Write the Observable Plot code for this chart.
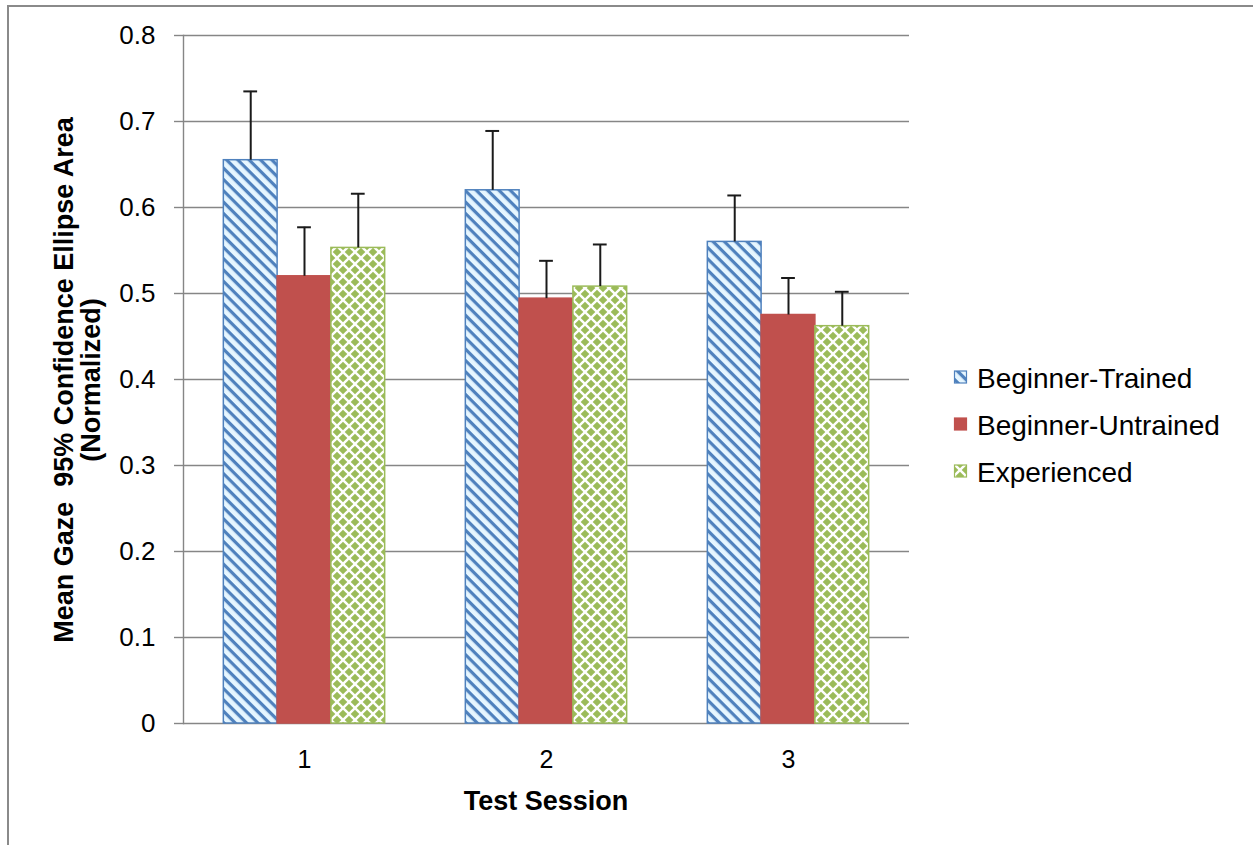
<!DOCTYPE html>
<html>
<head>
<meta charset="utf-8">
<script src="https://cdn.jsdelivr.net/npm/d3@7"></script>
<script src="https://cdn.jsdelivr.net/npm/@observablehq/plot@0.6"></script>
<style>
  html, body { margin: 0; padding: 0; background: #fff; }
  #wrap { position: relative; width: 1253px; height: 845px; overflow: hidden; }
  #border { position: absolute; left: 7px; top: 5px; right: -10px; bottom: -10px; border-left: 2px solid #8a8a8a; border-top: 2px solid #8a8a8a; pointer-events: none; }
  #chart { position: absolute; left: 0; top: 0; }
</style>
</head>
<body>
<div id="wrap"><div id="chart"></div><div id="border"></div></div>
<script>
// ---- data ----
const sessions = ["1", "2", "3"];
const groups = ["Beginner-Trained", "Beginner-Untrained", "Experienced"];
const meanTrained = [0.655, 0.620, 0.560];
const meanUntrained = [0.520, 0.494, 0.475];
const meanExperienced = [0.553, 0.508, 0.462];
const errTrained = [0.080, 0.069, 0.054];
const errUntrained = [0.057, 0.044, 0.043];
const errExperienced = [0.063, 0.049, 0.040];
const yTicks = [0, 0.1, 0.2, 0.3, 0.4, 0.5, 0.6, 0.7, 0.8];
const yTickLabels = ["0", "0.1", "0.2", "0.3", "0.4", "0.5", "0.6", "0.7", "0.8"];
const xTitle = "Test Session";
const yTitle1 = "Mean Gaze  95% Confidence Ellipse Area";
const yTitle2 = "(Normalized)";

const means = [meanTrained, meanUntrained, meanExperienced];
const errs = [errTrained, errUntrained, errExperienced];
const data = groups.flatMap((g, gi) => sessions.map((s, si) => ({
  group: g, session: s, value: means[gi][si], err: errs[gi][si]
})));

const fills = {
  "Beginner-Trained": {fill: "url(#patBT)", stroke: "#4f81bd"},
  "Beginner-Untrained": {fill: "#c0504d", stroke: "#c0504d"},
  "Experienced": {fill: "url(#patEX)", stroke: "#9bbb59"}
};

const FONT = "'Liberation Sans', Arial, Helvetica, sans-serif";

const barMarks = groups.map(g => Plot.barY(data.filter(d => d.group === g), {
  fx: "session", x: "group", y: "value",
  fill: fills[g].fill, stroke: fills[g].stroke, strokeWidth: 1.5,
  inset: 0
}));

const chart = Plot.plot({
  width: 1253,
  height: 845,
  marginLeft: 182,
  marginRight: 343,
  marginTop: 35,
  marginBottom: 122,
  style: {fontFamily: FONT, fontSize: "25px", color: "#000", background: "transparent"},
  fx: {domain: sessions, padding: 0, label: null, tickSize: 0, tickPadding: 27},
  x: {domain: groups, paddingInner: 0, paddingOuter: 0.75, round: false, axis: null},
  y: {domain: [0, 0.8], label: null},
  marks: [
    Plot.gridY(yTicks, {stroke: "#868686", strokeOpacity: 1, strokeWidth: 1.4}),
    Plot.axisY(yTicks, {tickSize: 9, tickPadding: 19, stroke: "#868686", strokeWidth: 1.4, fill: "#000", label: null, fontSize: 26,
      tickFormat: (d) => yTickLabels[yTicks.indexOf(d)]}),
    Plot.frame({anchor: "left", fx: ["1"], stroke: "#868686", strokeWidth: 1.4}),
    ...barMarks,
    Plot.ruleX(data, {fx: "session", x: "group", y1: "value", y2: d => d.value + d.err, stroke: "#1a1a1a", strokeWidth: 2}),
    Plot.tickY(data, {fx: "session", x: "group", y: d => d.value + d.err, stroke: "#1a1a1a", strokeWidth: 2, insetLeft: 20, insetRight: 20})
  ]
});

document.getElementById("chart").appendChild(chart);

const svg = d3.select(chart);
svg.insert("defs", ":first-child").html(`
  <pattern id="patBT" patternUnits="userSpaceOnUse" width="8" height="8" patternTransform="rotate(45)">
    <rect width="8" height="8" fill="#e6f6ff"/>
    <rect y="0" width="8" height="3.2" fill="#4f81bd"/>
  </pattern>
  <pattern id="patEX" patternUnits="userSpaceOnUse" width="12" height="12">
    <rect width="12" height="12" fill="#ffffff"/>
    <path d="M6,1.7L10.3,6L6,10.3L1.7,6Z" fill="#9bbb59"/>
    <path d="M0,-4.3L4.3,0L0,4.3L-4.3,0Z" fill="#9bbb59"/>
    <path d="M12,-4.3L16.3,0L12,4.3L7.7,0Z" fill="#9bbb59"/>
    <path d="M0,7.7L4.3,12L0,16.3L-4.3,12Z" fill="#9bbb59"/>
    <path d="M12,7.7L16.3,12L12,16.3L7.7,12Z" fill="#9bbb59"/>
  </pattern>
`);

// axis titles
svg.append("text")
  .attr("x", 546).attr("y", 810)
  .attr("text-anchor", "middle")
  .attr("font-family", FONT).attr("font-size", 27).attr("font-weight", "bold")
  .attr("fill", "#000")
  .text(xTitle);

const yt = svg.append("g").attr("transform", "translate(0,380) rotate(-90)");
yt.append("text").attr("x", 0).attr("y", 73)
  .attr("text-anchor", "middle")
  .attr("font-family", FONT).attr("font-size", 27).attr("font-weight", "bold")
  .attr("fill", "#000").text(yTitle1);
yt.append("text").attr("x", 0).attr("y", 100)
  .attr("text-anchor", "middle")
  .attr("font-family", FONT).attr("font-size", 27).attr("font-weight", "bold")
  .attr("fill", "#000").text(yTitle2);

// legend
const legend = svg.append("g").attr("transform", "translate(954,0)");
const legendBase = [388, 435, 482];
groups.forEach((g, i) => {
  const row = legend.append("g").attr("transform", `translate(0,${legendBase[i]})`);
  row.append("rect").attr("x", 0.5).attr("y", -17).attr("width", 12).attr("height", 12)
    .attr("fill", fills[g].fill).attr("stroke", fills[g].stroke).attr("stroke-width", 1.2);
  row.append("text").attr("x", 23).attr("y", 0)
    .attr("text-anchor", "start")
    .attr("font-family", FONT).attr("font-size", 28).attr("fill", "#000")
    .text(g);
});
</script>
</body>
</html>
